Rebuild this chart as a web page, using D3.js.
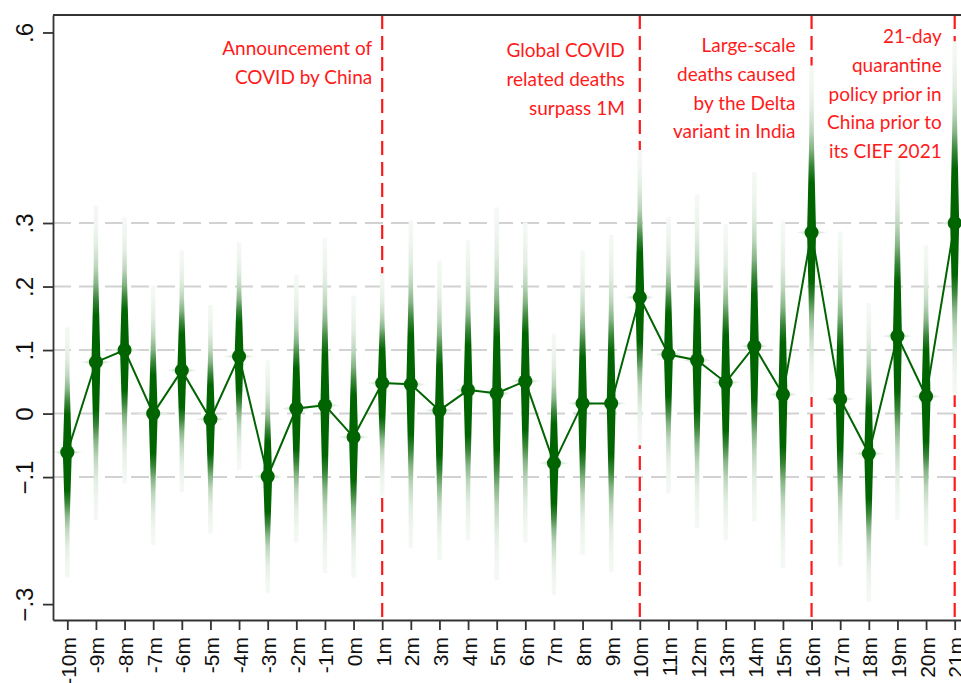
<!DOCTYPE html>
<html>
<head>
<meta charset="utf-8">
<script src="https://cdn.jsdelivr.net/npm/d3@7/dist/d3.min.js"></script>
<style>
  body { margin: 0; background: #fff; }
  svg { display: block; }
</style>
</head>
<body>
<div id="chart"></div>
<script>
// Podaci
const months = ["-10m", "-9m", "-8m", "-7m", "-6m", "-5m", "-4m", "-3m", "-2m", "-1m", "0m",
  "1m", "2m", "3m", "4m", "5m", "6m", "7m", "8m", "9m", "10m",
  "11m", "12m", "13m", "14m", "15m", "16m", "17m", "18m", "19m", "20m", "21m"];

const estimates = [-0.061, 0.081, 0.100, 0.000, 0.068, -0.009, 0.090, -0.099, 0.008, 0.013, -0.037,
  0.048, 0.046, 0.005, 0.037, 0.032, 0.051, -0.078, 0.016, 0.016, 0.183,
  0.093, 0.084, 0.049, 0.106, 0.030, 0.285, 0.023, -0.063, 0.122, 0.027, 0.300];

const ciUpper = [0.136, 0.328, 0.309, 0.202, 0.257, 0.171, 0.270, 0.084, 0.218, 0.277, 0.186,
  0.221, 0.304, 0.241, 0.273, 0.325, 0.301, 0.126, 0.257, 0.281, 0.415,
  0.310, 0.345, 0.298, 0.380, 0.304, 0.548, 0.287, 0.174, 0.408, 0.265, 0.586];

const ciLower = [-0.258, -0.168, -0.110, -0.207, -0.124, -0.189, -0.089, -0.283, -0.203, -0.251, -0.259,
  -0.129, -0.212, -0.231, -0.200, -0.262, -0.203, -0.286, -0.223, -0.250, -0.050,
  -0.126, -0.181, -0.200, -0.170, -0.244, 0.026, -0.241, -0.297, -0.167, -0.209, 0.029];

const yTicks = [-0.3, -0.1, 0, 0.1, 0.2, 0.3, 0.6];
const gridTicks = [-0.1, 0, 0.1, 0.2, 0.3];

const eventMonths = ["1m", "10m", "16m", "21m"];
const eventNotes = [
  ["Announcement of", "COVID by China"],
  ["Global COVID", "related deaths", "surpass 1M"],
  ["Large-scale", "deaths caused", "by the Delta", "variant in India"],
  ["21-day", "quarantine", "policy prior in", "China prior to", "its CIEF 2021"]
];

function drawChart() {
  const dimenzije = {
    sirina: 961,
    visina: 683,
    margine: { top: 15, right: -8, bottom: 63, left: 53 }
  };
  dimenzije.grSirina = dimenzije.sirina - dimenzije.margine.left - dimenzije.margine.right;
  dimenzije.grVisina = dimenzije.visina - dimenzije.margine.top - dimenzije.margine.bottom;

  const zelena = "#006400";
  const boja = d3.interpolateRgb("#ffffff", zelena);

  const svg = d3.select("#chart")
    .append("svg")
    .attr("width", dimenzije.sirina)
    .attr("height", dimenzije.visina);

  const defs = svg.append("defs");

  const granice = svg.append("g")
    .attr("transform", `translate(${dimenzije.margine.left},${dimenzije.margine.top})`);

  // Skale
  const xScale = d3.scalePoint()
    .domain(months)
    .range([0, dimenzije.grSirina])
    .padding(0.5);

  const yScale = d3.scaleLinear()
    .domain([-0.325, 0.6275])
    .range([dimenzije.grVisina, 0]);

  // Mreza
  granice.append("g")
    .selectAll("line")
    .data(gridTicks)
    .join("line")
    .attr("x1", 0)
    .attr("x2", dimenzije.grSirina)
    .attr("y1", d => yScale(d))
    .attr("y2", d => yScale(d))
    .attr("stroke", "#d2d2d2")
    .attr("stroke-width", 2)
    .attr("stroke-dasharray", "18,8");

  // Crvene linije dogadjaja
  granice.append("g")
    .selectAll("line")
    .data(eventMonths)
    .join("line")
    .attr("x1", d => xScale(d))
    .attr("x2", d => xScale(d))
    .attr("y1", 0)
    .attr("y2", dimenzije.grVisina)
    .attr("stroke", "#ff1a1a")
    .attr("stroke-width", 2.2)
    .attr("stroke-dasharray", "14,7");

  // Intenzitet boje po udaljenosti od tocke (t = 0 u tocki, 1 na kraju intervala)
  const intenzitet = d3.scaleLinear()
    .domain([0, 0.3, 0.4, 0.5, 0.62, 0.75, 0.88, 1])
    .range([1, 1, 0.78, 0.48, 0.24, 0.11, 0.06, 0.04])
    .clamp(true);

  const sirinaTraka = t => 4.5 + 4.5 * Math.pow(Math.max(0, 1 - t / 0.6), 1.1);

  const podaci = months.map((m, i) => ({
    m, i,
    est: estimates[i],
    lo: ciLower[i],
    hi: ciUpper[i]
  }));

  const trake = granice.append("g");

  podaci.forEach(d => {
    const cx = xScale(d.m);
    const cy = yScale(d.est);
    const yTop = yScale(d.hi);
    const yBot = yScale(d.lo);
    const visina = yBot - yTop;

    // Gradijent okomite trake
    const grad = defs.append("linearGradient")
      .attr("id", `g${d.i}`)
      .attr("x1", 0).attr("y1", 0).attr("x2", 0).attr("y2", 1);
    const stops = [];
    d3.range(0, 1.0001, 0.05).forEach(t => {
      stops.push({ off: (cy - t * (cy - yTop) - yTop) / visina, t });
      stops.push({ off: (cy + t * (yBot - cy) - yTop) / visina, t });
    });
    stops.sort((a, b) => a.off - b.off);
    grad.selectAll("stop")
      .data(stops)
      .join("stop")
      .attr("offset", s => s.off)
      .attr("stop-color", s => boja(intenzitet(s.t)));

    // Vodoravni sjaj oko tocke
    const sjaj = defs.append("linearGradient")
      .attr("id", `h${d.i}`)
      .attr("x1", 0).attr("y1", 0).attr("x2", 1).attr("y2", 0);
    sjaj.selectAll("stop")
      .data([[0, 0.03], [0.3, 0.15], [0.5, 0.5], [0.7, 0.15], [1, 0.03]])
      .join("stop")
      .attr("offset", s => s[0])
      .attr("stop-color", s => boja(s[1]));

    const hs = d3.range(-1, 1.0001, 0.1);
    trake.append("path")
      .datum(hs)
      .attr("fill", `url(#h${d.i})`)
      .attr("d", d3.area()
        .x(s => cx + s * 17)
        .y0(s => cy - 4 * Math.pow(1 - Math.abs(s), 1.6))
        .y1(s => cy + 4 * Math.pow(1 - Math.abs(s), 1.6)));

    // Okomita traka
    const profil = [];
    d3.range(1, -0.0001, -0.025).forEach(t => profil.push({ y: cy - t * (cy - yTop), t }));
    d3.range(0.025, 1.0001, 0.025).forEach(t => profil.push({ y: cy + t * (yBot - cy), t }));

    trake.append("path")
      .datum(profil)
      .attr("fill", `url(#g${d.i})`)
      .attr("d", d3.area()
        .y(p => p.y)
        .x0(p => cx - sirinaTraka(p.t) / 2)
        .x1(p => cx + sirinaTraka(p.t) / 2));
  });

  // Linija
  granice.append("path")
    .datum(podaci)
    .attr("fill", "none")
    .attr("stroke", zelena)
    .attr("stroke-width", 2)
    .attr("d", d3.line()
      .x(d => xScale(d.m))
      .y(d => yScale(d.est)));

  granice.append("g")
    .selectAll("circle")
    .data(podaci)
    .join("circle")
    .attr("cx", d => xScale(d.m))
    .attr("cy", d => yScale(d.est))
    .attr("r", 7)
    .attr("fill", zelena);

  // Biljeske
  const prviRed = [55, 57, 52, 43];
  const pomak = [10, 15, 16, 13];
  eventNotes.forEach((redovi, k) => {
    granice.append("text")
      .attr("x", xScale(eventMonths[k]) - pomak[k])
      .attr("y", prviRed[k] - dimenzije.margine.top)
      .attr("text-anchor", "end")
      .attr("fill", "#ff1a1a")
      .style("font-family", "Lato, 'Open Sans', sans-serif")
      .style("font-size", "19px")
      .selectAll("tspan")
      .data(redovi)
      .join("tspan")
      .attr("x", xScale(eventMonths[k]) - pomak[k])
      .attr("dy", (r, j) => j === 0 ? 0 : 28.8)
      .text(r => r);
  });

  // Okvir gore
  granice.append("line")
    .attr("x1", 0)
    .attr("x2", dimenzije.grSirina)
    .attr("y1", 0)
    .attr("y2", 0)
    .attr("stroke", "#333")
    .attr("stroke-width", 1.8);

  // Osi
  const formatY = d => d === 0 ? "0" : d3.format(".1f")(d).replace("0.", ".");

  const yAxis = granice.append("g")
    .call(d3.axisLeft(yScale).tickValues(yTicks).tickSize(10).tickSizeOuter(0).tickFormat(formatY));
  yAxis.selectAll("path, line").attr("stroke", "#333").attr("stroke-width", 1.8);
  yAxis.selectAll("text")
    .attr("transform", "rotate(-90)")
    .attr("x", 0)
    .attr("y", -20)
    .attr("dy", 0)
    .attr("text-anchor", "middle")
    .attr("fill", "#111")
    .style("font-family", "'Liberation Sans', Arial, sans-serif")
    .style("font-size", "24px");

  const xAxis = granice.append("g")
    .attr("transform", `translate(0,${dimenzije.grVisina})`)
    .call(d3.axisBottom(xScale).tickSize(10).tickSizeOuter(0));
  xAxis.selectAll("path, line").attr("stroke", "#333").attr("stroke-width", 1.8);
  xAxis.selectAll("text")
    .attr("transform", "rotate(-90)")
    .attr("x", -17)
    .attr("y", 8)
    .attr("dy", 0)
    .attr("text-anchor", "end")
    .attr("fill", "#111")
    .style("font-family", "'Liberation Sans', Arial, sans-serif")
    .style("font-size", "21px");
}

drawChart();
</script>
</body>
</html>
